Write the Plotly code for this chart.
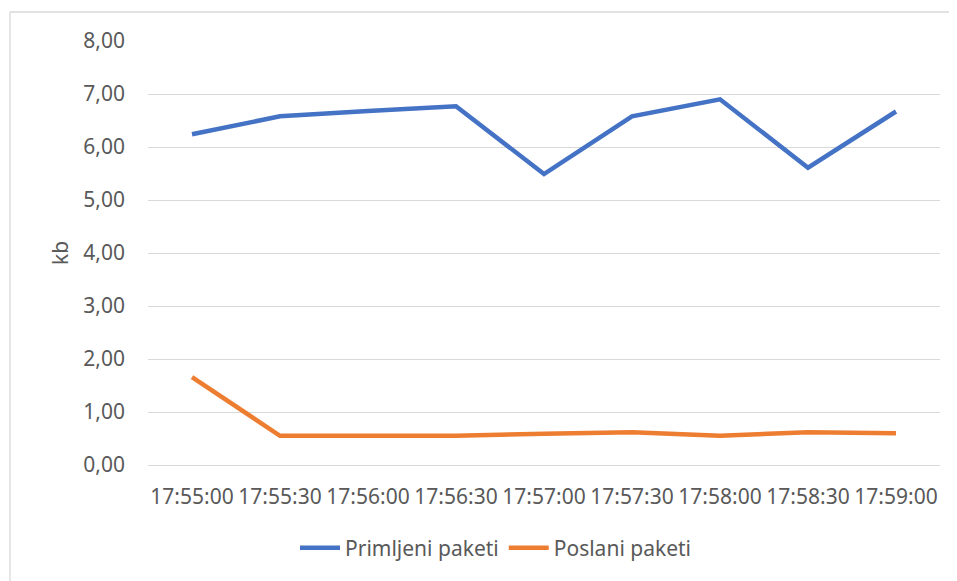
import plotly.graph_objects as go

times = ["17:55:00", "17:55:30", "17:56:00", "17:56:30", "17:57:00",
         "17:57:30", "17:58:00", "17:58:30", "17:59:00"]
primljeni = [6.24, 6.58, 6.68, 6.77, 5.49, 6.58, 6.90, 5.61, 6.67]
poslani = [1.66, 0.55, 0.55, 0.55, 0.59, 0.62, 0.55, 0.62, 0.60]

font_family = "Noto Sans, Open Sans, Liberation Sans, sans-serif"
txt_color = "#595959"
grid_color = "#d9d9d9"
FS = 21

fig = go.Figure()
fig.add_trace(go.Scatter(x=times, y=primljeni, mode="lines", name="Primljeni paketi",
                         line=dict(color="#4472C4", width=4.5)))
fig.add_trace(go.Scatter(x=times, y=poslani, mode="lines", name="Poslani paketi",
                         line=dict(color="#ED7D31", width=4.5)))

# page body has an 8px margin; work in screen pixel coordinates
OFF = 8
W, H = 957 - OFF, 581 - OFF
L, R, T, B = 148 - OFF, 957 - 940, 41 - OFF, 581 - 465
pw, ph = W - L - R, H - T - B

def px_x(x):
    return (x - OFF - L) / pw

def px_y(y):
    return (H - B - (y - OFF)) / ph

border = dict(color=grid_color, width=1.3)

fig.update_layout(
    width=W, height=H,
    margin=dict(l=L, r=R, t=T, b=B),
    paper_bgcolor="white", plot_bgcolor="white",
    separators=", ",
    font=dict(family=font_family, size=FS, color=txt_color),
    showlegend=True,
    legend=dict(orientation="h", x=px_x(496), xanchor="center",
                y=px_y(548), yanchor="middle",
                font=dict(size=FS, color=txt_color), itemwidth=40,
                bgcolor="rgba(0,0,0,0)"),
    xaxis=dict(type="category", range=[-0.5, 8.5], showgrid=False,
               showline=True, linecolor=grid_color, linewidth=1.3,
               ticks="", ticklabelstandoff=13, tickfont=dict(size=FS, color=txt_color),
               fixedrange=True),
    yaxis=dict(range=[0, 8], dtick=1, tick0=0, tickformat=".2f",
               showgrid=True, gridcolor=grid_color, gridwidth=1.3,
               zeroline=False, showline=False, ticks="",
               ticklabelstandoff=22, tickfont=dict(size=FS, color=txt_color),
               fixedrange=True),
    annotations=[dict(text="kb", xref="paper", yref="paper",
                      x=px_x(60), xanchor="center", y=0.5, yanchor="middle",
                      textangle=-90, showarrow=False,
                      font=dict(size=FS, color=txt_color))],
    shapes=[
        dict(type="line", xref="paper", yref="paper",
             x0=px_x(10), x1=px_x(1000), y0=px_y(12), y1=px_y(12),
             line=border, layer="below"),
        dict(type="line", xref="paper", yref="paper",
             x0=px_x(10), x1=px_x(10), y0=px_y(12), y1=px_y(620),
             line=border, layer="below"),
    ],
)

fig.write_html("out.html")
